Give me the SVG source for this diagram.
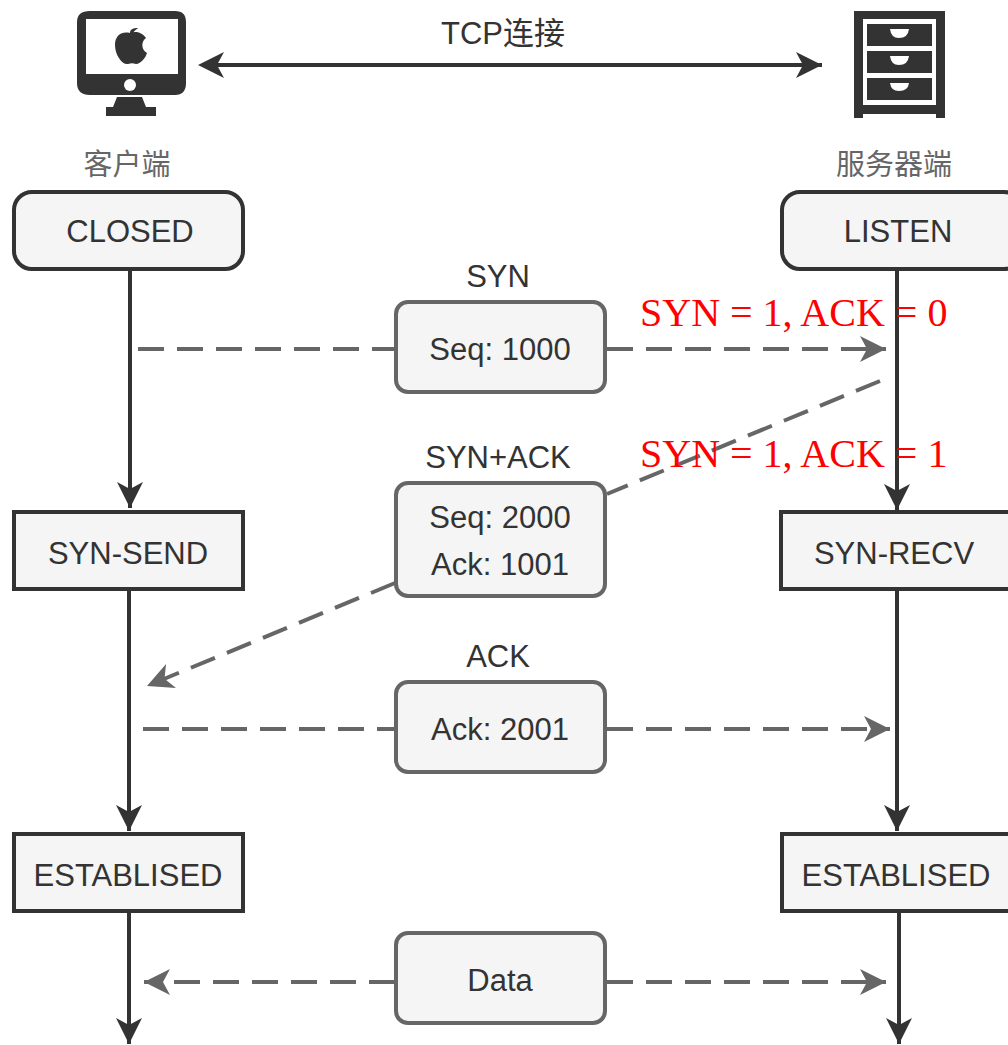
<svg xmlns="http://www.w3.org/2000/svg" width="1008" height="1045" viewBox="0 0 1008 1045">
<style>
text{font-family:"Liberation Sans","Noto Sans CJK SC",sans-serif;font-size:31px;fill:#333;text-anchor:middle}
.cjk{font-family:"Noto Sans CJK SC","Liberation Sans",sans-serif;font-size:29px;fill:#666}
.red{font-family:"Liberation Serif",serif;font-size:40px;fill:#f00;text-anchor:start}
.box{fill:#f5f5f5;stroke:#333;stroke-width:4}
.msg{fill:#f5f5f5;stroke:#666;stroke-width:4}
.solid{stroke:#333;stroke-width:4;fill:none}
.dash{stroke:#666;stroke-width:4;fill:none;stroke-dasharray:26 13}
.ink{fill:#333}
</style>
<defs>
<marker id="ah" markerUnits="userSpaceOnUse" markerWidth="30" markerHeight="30" refX="26" refY="13" orient="auto"><path d="M0 0L26 13L0 26L7 13Z" fill="#333"/></marker>
<marker id="ag" markerUnits="userSpaceOnUse" markerWidth="30" markerHeight="30" refX="26" refY="13" orient="auto"><path d="M0 0L26 13L0 26L7 13Z" fill="#666"/></marker>
</defs>
<g id="connectors">
<path class="solid" d="M215 65H822" marker-end="url(#ah)"/>
<path class="solid" d="M222 65H240" marker-start="none"/>
<path d="M198 65L224 52L217 65L224 78Z" class="ink"/>
<path class="solid" d="M130 270V508" marker-end="url(#ah)"/>
<path class="solid" d="M129 591V831" marker-end="url(#ah)"/>
<path class="solid" d="M129 913V1044" marker-end="url(#ah)"/>
<path class="solid" d="M897 270V510" marker-end="url(#ah)"/>
<path class="solid" d="M897 591V831" marker-end="url(#ah)"/>
<path class="solid" d="M899 913V1044" marker-end="url(#ah)"/>
<path class="dash" d="M138 349H395"/>
<path class="dash" d="M607 349H886" marker-end="url(#ag)"/>
<path class="dash" d="M880 381L607 494"/>
<path class="dash" d="M395 583L147 686" marker-end="url(#ag)"/>
<path class="dash" d="M143 729H395"/>
<path class="dash" d="M607 729H890" marker-end="url(#ag)"/>
<path class="dash" d="M395 982H144" marker-end="url(#ag)"/>
<path class="dash" d="M607 982H886" marker-end="url(#ag)"/>
</g>
<g id="client-icon">
<path class="ink" fill-rule="evenodd" d="M90 11H175Q186 11 186 22V83Q186 95 175 95H90Q77 95 77 83V22Q77 11 90 11ZM86 19V74H178V19Z"/>
<circle cx="130" cy="85" r="6" fill="#fff"/>
<path class="ink" d="M117 97H142L146 107H156V116H106V107H113Z"/>
<path class="ink" d="M130 33C122 31 115 35 115 45C115 55 122 65 128 64C131 63 133 63 136 64C141 64 146 57 147 53C141 50 141 41 146 38C142 32 135 31 130 33ZM130 32C130 37 134 31 138 28C133 28 131 29 130 32Z"/>
<text class="cjk" x="127" y="175">客户端</text>
</g>
<g id="server-icon">
<path class="ink" fill-rule="evenodd" d="M854 11H945V118H936V114H863V118H854ZM863 19V105H936V19Z"/>
<rect class="ink" x="867" y="24" width="65" height="22"/>
<rect class="ink" x="867" y="51" width="65" height="22"/>
<rect class="ink" x="867" y="78" width="65" height="22"/>
<path d="M890 29H909Q908 38 899 38Q891 38 890 29ZM890 56H909Q908 65 899 65Q891 65 890 56ZM890 83H909Q908 91 899 91Q891 91 890 83Z" fill="#fff"/>
<text class="cjk" x="894" y="175">服务器端</text>
</g>
<text id="tcp-label" x="503" y="44">TCP连接</text>
<g id="closed"><rect class="box" x="14" y="192" width="229" height="77" rx="18"/><text x="130" y="242">CLOSED</text></g>
<g id="listen"><rect class="box" x="782" y="192" width="240" height="77" rx="18"/><text x="898" y="242">LISTEN</text></g>
<g id="syn-send"><rect class="box" x="14" y="512" width="229" height="77"/><text x="128" y="564">SYN-SEND</text></g>
<g id="syn-recv"><rect class="box" x="781" y="512" width="240" height="77"/><text x="894" y="564">SYN-RECV</text></g>
<g id="est-client"><rect class="box" x="14" y="834" width="229" height="77"/><text x="128" y="886">ESTABLISED</text></g>
<g id="est-server"><rect class="box" x="782" y="834" width="240" height="77"/><text x="896" y="886">ESTABLISED</text></g>
<g id="syn-msg"><text x="498" y="287">SYN</text><rect class="msg" x="396" y="302" width="209" height="90" rx="12"/><text x="500" y="360">Seq: 1000</text></g>
<g id="synack-msg"><text x="498" y="468">SYN+ACK</text><rect class="msg" x="396" y="483" width="209" height="113" rx="12"/><text x="500" y="528">Seq: 2000</text><text x="500" y="575">Ack: 1001</text></g>
<g id="ack-msg"><text x="498" y="667">ACK</text><rect class="msg" x="396" y="682" width="209" height="90" rx="12"/><text x="500" y="740">Ack: 2001</text></g>
<g id="data-msg"><rect class="msg" x="396" y="933" width="209" height="90" rx="12"/><text x="500" y="991">Data</text></g>
<text class="red" x="640" y="326">SYN = 1, ACK = 0</text>
<text class="red" x="640" y="467">SYN = 1, ACK = 1</text>
</svg>
